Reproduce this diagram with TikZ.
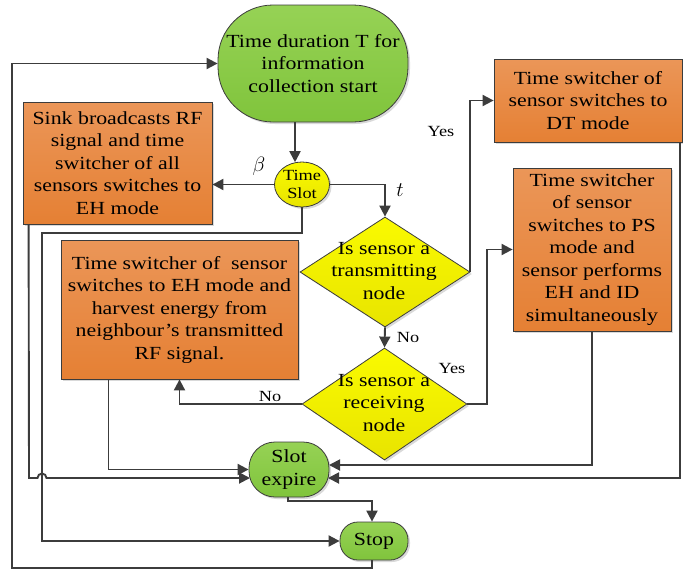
\documentclass[tikz,border=0pt]{standalone}
\usepackage{fontspec}
\setmainfont[FakeStretch=1.18]{Liberation Serif}
\usetikzlibrary{shapes.geometric,shadows,calc,arrows.meta}
\definecolor{lineC}{RGB}{60,60,60}
\definecolor{orTop}{RGB}{235,150,88}
\definecolor{orBot}{RGB}{229,128,52}
\definecolor{grTop}{RGB}{150,210,85}
\definecolor{grBot}{RGB}{128,196,60}
\definecolor{ylTop}{RGB}{250,250,0}
\definecolor{ylBot}{RGB}{232,228,0}
\begin{document}
\begin{tikzpicture}[x=1pt,y=-1pt,
  base/.style={draw=lineC, line width=0.8pt, align=center, inner sep=0pt,
    font=\fontsize{18.5}{22.5}\selectfont,
    drop shadow={shadow xshift=2pt, shadow yshift=-2pt, opacity=0.3, fill=gray}},
  box/.style={base, top color=orTop, bottom color=orBot},
  term/.style={base, top color=grTop, bottom color=grBot},
  dia/.style={diamond, base, top color=ylTop, bottom color=ylBot},
  slotst/.style={ellipse, base, top color=ylTop, bottom color=ylBot, font=\fontsize{15.5}{17.5}\selectfont},
  txt/.style={align=center, inner sep=0pt, font=\fontsize{18.5}{22.5}\selectfont},
  lab/.style={inner sep=0pt, font=\fontsize{15.5}{18}\selectfont},
  arr/.style={draw=lineC, line width=1.9pt, -{Triangle[length=11pt,width=11pt]}},
  ln/.style={draw=lineC, line width=1.9pt}]
\useasboundingbox (0,0) rectangle (683,571);

% nodes
\node[term, minimum width=190pt, minimum height=117pt, rounded corners=55pt] (start) at (313,63.5)
  {Time duration T for\\information\\collection start};
\node[slotst, minimum width=55pt, minimum height=45pt] (slot) at (302,184.5) {Time\\Slot};
\node[box, minimum width=189pt, minimum height=122pt] (sink) at (117.5,163)
  {Sink broadcasts RF\\signal and time\\switcher of all\\sensors switches to\\EH mode};
\node[box, minimum width=188pt, minimum height=83pt] (dt) at (588,100.5)
  {Time switcher of\\sensor switches to\\DT mode};
\node[box, minimum width=158pt, minimum height=163pt] (ps) at (592,249.5)
  {Time switcher\\of sensor\\switches to PS\\mode and\\sensor performs\\EH and ID\\simultaneously};
\node[box, minimum width=237pt, minimum height=139pt] (eh) at (179.5,309.5)
  {Time switcher of~ sensor\\switches to EH mode and\\harvest energy from\\neighbour's transmitted\\RF signal.};
\node[dia, minimum width=170pt, minimum height=110pt] (d1) at (385,272) {};
\node[txt] (d1t) at (384,271) {Is sensor a\\transmitting\\node};
\node[dia, minimum width=165pt, minimum height=112pt] (d2) at (384.5,404) {};
\node[txt] (d2t) at (384,403) {Is sensor a\\receiving\\node};
\node[term, minimum width=80pt, minimum height=55pt, rounded corners=26pt] (sexp) at (289,469.5) {Slot\\expire};
\node[term, minimum width=68pt, minimum height=38pt, rounded corners=18pt] (stop) at (374,541) {Stop};

% labels
\node[inner sep=0pt, font=\fontsize{21}{21}\selectfont] (beta) at (259,166) {$\beta$};
\node[inner sep=0pt, font=\fontsize{21}{21}\selectfont] (tlab) at (400,190) {$t$};
\node[lab] (no1) at (408,337) {No};
\node[lab] (yes1) at (441,131) {Yes};
\node[lab] (yes2) at (452,368) {Yes};
\node[lab] (no2) at (270,396) {No};

% coordinates
\coordinate (lp) at (12,568);
\coordinate (jmp) at (42,233);
\coordinate (rx) at (487,404);
\coordinate (sx) at (29,478);

% connectors
\draw[arr] ($(start.south)+(-18,0)$) -- ($(slot.north)+(-7,0.6)$);
\draw[arr] (slot.west) -- (slot.west -| sink.east);
\draw[arr] (slot.east) -| (d1.north);
\draw[arr] (d1.south) -- (d2.north);
\draw[arr] (d1.east) |- (dt.west);
\draw[arr] (d2.east) -- (rx) |- (ps.west);
\draw[arr] (d2.west) -| (eh.south);
\draw[arr] ($(eh.south)+(-71,0)$) |- (sexp.west);
\draw[arr] ($(sink.south west)+(6,0)$) -- (sx) -- (37.5,478) arc[start angle=180, end angle=0, radius=4.5pt] -- ($(sexp.west)+(1.4,8.5)$);
\draw[arr] (slot.south) -- ($(slot.south)+(0,26)$) -| (jmp |- stop.west) -- (stop.west);
\draw[arr] (ps.south) |- ($(sexp.east)+(-0.4,-4.5)$);
\draw[arr] ($(dt.south east)+(-2,0)$) |- ($(sexp.east)+(-1.4,8.5)$);
\draw[arr] ($(sexp.south)+(-1,0)$) -- ($(sexp.south)+(-1,3.5)$) -| ($(stop.north)+(-2,0)$);
\draw[arr] ($(stop.south)+(-2,0)$) |- (lp) |- (start.west);
\end{tikzpicture}
\end{document}
